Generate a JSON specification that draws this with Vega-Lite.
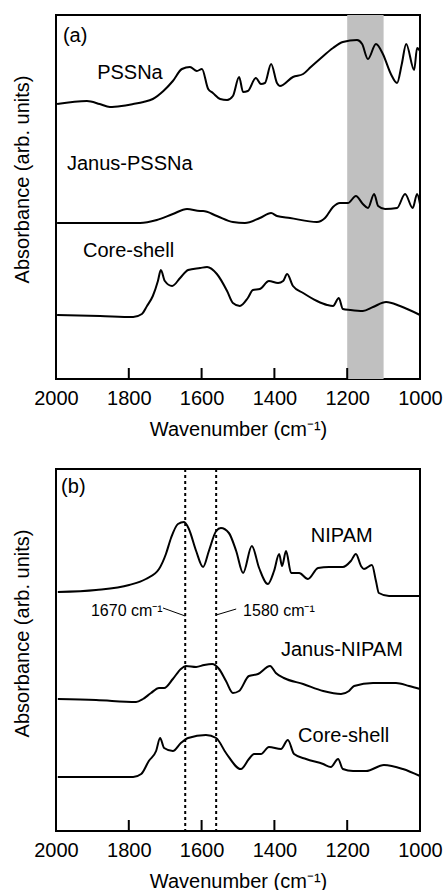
{
  "$schema": "https://vega.github.io/schema/vega-lite/v6.json",
  "padding": {"left": 11, "top": 14, "right": 5, "bottom": 2},
  "background": "white",
  "spacing": 27,
  "config": {
    "font": "Liberation Sans",
    "view": {"stroke": "black", "strokeWidth": 2},
    "axis": {
      "grid": false,
      "domain": false,
      "labelFont": "Liberation Sans",
      "titleFont": "Liberation Sans",
      "labelFontSize": 20,
      "titleFontSize": 20,
      "titleFontWeight": "normal",
      "labelColor": "black",
      "titleColor": "black",
      "tickColor": "black"
    }
  },
  "datasets": {
    "bandA": [{"from": 1200, "to": 1100}],
    "ticks": [{"wn": 1800}, {"wn": 1600}, {"wn": 1400}, {"wn": 1200}],
    "specA": [
      {"sample": "PSSNa", "wn": 1997, "abs": 275}, {"sample": "PSSNa", "wn": 1915, "abs": 278}, {"sample": "PSSNa", "wn": 1880, "abs": 275}, {"sample": "PSSNa", "wn": 1852, "abs": 272}, {"sample": "PSSNa", "wn": 1820, "abs": 273}, {"sample": "PSSNa", "wn": 1788, "abs": 275}, {"sample": "PSSNa", "wn": 1760, "abs": 277}, {"sample": "PSSNa", "wn": 1734, "abs": 280}, {"sample": "PSSNa", "wn": 1705, "abs": 288}, {"sample": "PSSNa", "wn": 1679, "abs": 298}, {"sample": "PSSNa", "wn": 1654, "abs": 310}, {"sample": "PSSNa", "wn": 1632, "abs": 312}, {"sample": "PSSNa", "wn": 1613, "abs": 308}, {"sample": "PSSNa", "wn": 1599, "abs": 310}, {"sample": "PSSNa", "wn": 1582, "abs": 290}, {"sample": "PSSNa", "wn": 1569, "abs": 286}, {"sample": "PSSNa", "wn": 1549, "abs": 280}, {"sample": "PSSNa", "wn": 1530, "abs": 279}, {"sample": "PSSNa", "wn": 1514, "abs": 283}, {"sample": "PSSNa", "wn": 1497, "abs": 302}, {"sample": "PSSNa", "wn": 1486, "abs": 287}, {"sample": "PSSNa", "wn": 1473, "abs": 288}, {"sample": "PSSNa", "wn": 1451, "abs": 301}, {"sample": "PSSNa", "wn": 1437, "abs": 295}, {"sample": "PSSNa", "wn": 1426, "abs": 296}, {"sample": "PSSNa", "wn": 1409, "abs": 315}, {"sample": "PSSNa", "wn": 1393, "abs": 296}, {"sample": "PSSNa", "wn": 1385, "abs": 293}, {"sample": "PSSNa", "wn": 1349, "abs": 302}, {"sample": "PSSNa", "wn": 1321, "abs": 305}, {"sample": "PSSNa", "wn": 1300, "abs": 312}, {"sample": "PSSNa", "wn": 1275, "abs": 320}, {"sample": "PSSNa", "wn": 1239, "abs": 331}, {"sample": "PSSNa", "wn": 1212, "abs": 337}, {"sample": "PSSNa", "wn": 1173, "abs": 339}, {"sample": "PSSNa", "wn": 1159, "abs": 335}, {"sample": "PSSNa", "wn": 1143, "abs": 320}, {"sample": "PSSNa", "wn": 1121, "abs": 335}, {"sample": "PSSNa", "wn": 1102, "abs": 325}, {"sample": "PSSNa", "wn": 1080, "abs": 305}, {"sample": "PSSNa", "wn": 1063, "abs": 296}, {"sample": "PSSNa", "wn": 1050, "abs": 315}, {"sample": "PSSNa", "wn": 1038, "abs": 335}, {"sample": "PSSNa", "wn": 1016, "abs": 309}, {"sample": "PSSNa", "wn": 1008, "abs": 331}, {"sample": "PSSNa", "wn": 1000, "abs": 328},
      {"sample": "Janus-PSSNa", "wn": 1997, "abs": 156}, {"sample": "Janus-PSSNa", "wn": 1879, "abs": 156}, {"sample": "Janus-PSSNa", "wn": 1769, "abs": 156}, {"sample": "Janus-PSSNa", "wn": 1723, "abs": 159}, {"sample": "Janus-PSSNa", "wn": 1679, "abs": 165}, {"sample": "Janus-PSSNa", "wn": 1640, "abs": 170}, {"sample": "Janus-PSSNa", "wn": 1604, "abs": 168}, {"sample": "Janus-PSSNa", "wn": 1596, "abs": 168}, {"sample": "Janus-PSSNa", "wn": 1558, "abs": 163}, {"sample": "Janus-PSSNa", "wn": 1514, "abs": 157}, {"sample": "Janus-PSSNa", "wn": 1481, "abs": 156}, {"sample": "Janus-PSSNa", "wn": 1440, "abs": 161}, {"sample": "Janus-PSSNa", "wn": 1409, "abs": 166}, {"sample": "Janus-PSSNa", "wn": 1393, "abs": 163}, {"sample": "Janus-PSSNa", "wn": 1357, "abs": 161}, {"sample": "Janus-PSSNa", "wn": 1283, "abs": 157}, {"sample": "Janus-PSSNa", "wn": 1261, "abs": 161}, {"sample": "Janus-PSSNa", "wn": 1239, "abs": 172}, {"sample": "Janus-PSSNa", "wn": 1220, "abs": 176}, {"sample": "Janus-PSSNa", "wn": 1198, "abs": 176}, {"sample": "Janus-PSSNa", "wn": 1176, "abs": 183}, {"sample": "Janus-PSSNa", "wn": 1157, "abs": 175}, {"sample": "Janus-PSSNa", "wn": 1143, "abs": 171}, {"sample": "Janus-PSSNa", "wn": 1126, "abs": 185}, {"sample": "Janus-PSSNa", "wn": 1115, "abs": 173}, {"sample": "Janus-PSSNa", "wn": 1096, "abs": 170}, {"sample": "Janus-PSSNa", "wn": 1063, "abs": 171}, {"sample": "Janus-PSSNa", "wn": 1041, "abs": 185}, {"sample": "Janus-PSSNa", "wn": 1020, "abs": 171}, {"sample": "Janus-PSSNa", "wn": 1008, "abs": 185}, {"sample": "Janus-PSSNa", "wn": 1000, "abs": 175},
      {"sample": "Core-shell", "wn": 1997, "abs": 64}, {"sample": "Core-shell", "wn": 1879, "abs": 63}, {"sample": "Core-shell", "wn": 1788, "abs": 62}, {"sample": "Core-shell", "wn": 1764, "abs": 65}, {"sample": "Core-shell", "wn": 1750, "abs": 73}, {"sample": "Core-shell", "wn": 1734, "abs": 83}, {"sample": "Core-shell", "wn": 1720, "abs": 98}, {"sample": "Core-shell", "wn": 1712, "abs": 109}, {"sample": "Core-shell", "wn": 1701, "abs": 98}, {"sample": "Core-shell", "wn": 1681, "abs": 93}, {"sample": "Core-shell", "wn": 1659, "abs": 101}, {"sample": "Core-shell", "wn": 1637, "abs": 109}, {"sample": "Core-shell", "wn": 1604, "abs": 111}, {"sample": "Core-shell", "wn": 1585, "abs": 112}, {"sample": "Core-shell", "wn": 1558, "abs": 105}, {"sample": "Core-shell", "wn": 1530, "abs": 88}, {"sample": "Core-shell", "wn": 1514, "abs": 76}, {"sample": "Core-shell", "wn": 1495, "abs": 73}, {"sample": "Core-shell", "wn": 1473, "abs": 81}, {"sample": "Core-shell", "wn": 1459, "abs": 89}, {"sample": "Core-shell", "wn": 1440, "abs": 90}, {"sample": "Core-shell", "wn": 1415, "abs": 98}, {"sample": "Core-shell", "wn": 1390, "abs": 96}, {"sample": "Core-shell", "wn": 1376, "abs": 98}, {"sample": "Core-shell", "wn": 1365, "abs": 105}, {"sample": "Core-shell", "wn": 1349, "abs": 93}, {"sample": "Core-shell", "wn": 1321, "abs": 86}, {"sample": "Core-shell", "wn": 1283, "abs": 78}, {"sample": "Core-shell", "wn": 1255, "abs": 74}, {"sample": "Core-shell", "wn": 1239, "abs": 73}, {"sample": "Core-shell", "wn": 1223, "abs": 81}, {"sample": "Core-shell", "wn": 1212, "abs": 70}, {"sample": "Core-shell", "wn": 1192, "abs": 69}, {"sample": "Core-shell", "wn": 1157, "abs": 68}, {"sample": "Core-shell", "wn": 1129, "abs": 72}, {"sample": "Core-shell", "wn": 1093, "abs": 77}, {"sample": "Core-shell", "wn": 1055, "abs": 73}, {"sample": "Core-shell", "wn": 1000, "abs": 64}
    ],
    "labelsA": [
      {"label": "(a)", "wn": 1981, "abs": 343},
      {"label": "PSSNa", "wn": 1887, "abs": 306},
      {"label": "Janus-PSSNa", "wn": 1970, "abs": 215},
      {"label": "Core-shell", "wn": 1926, "abs": 128}
    ],
    "specB": [
      {"sample": "NIPAM", "wn": 1995, "abs": 239}, {"sample": "NIPAM", "wn": 1890, "abs": 241}, {"sample": "NIPAM", "wn": 1799, "abs": 246}, {"sample": "NIPAM", "wn": 1753, "abs": 252}, {"sample": "NIPAM", "wn": 1717, "abs": 262}, {"sample": "NIPAM", "wn": 1698, "abs": 277}, {"sample": "NIPAM", "wn": 1684, "abs": 293}, {"sample": "NIPAM", "wn": 1665, "abs": 307}, {"sample": "NIPAM", "wn": 1648, "abs": 309}, {"sample": "NIPAM", "wn": 1635, "abs": 302}, {"sample": "NIPAM", "wn": 1615, "abs": 280}, {"sample": "NIPAM", "wn": 1596, "abs": 264}, {"sample": "NIPAM", "wn": 1580, "abs": 280}, {"sample": "NIPAM", "wn": 1560, "abs": 300}, {"sample": "NIPAM", "wn": 1547, "abs": 303}, {"sample": "NIPAM", "wn": 1525, "abs": 298}, {"sample": "NIPAM", "wn": 1505, "abs": 280}, {"sample": "NIPAM", "wn": 1486, "abs": 258}, {"sample": "NIPAM", "wn": 1462, "abs": 285}, {"sample": "NIPAM", "wn": 1442, "abs": 263}, {"sample": "NIPAM", "wn": 1418, "abs": 247}, {"sample": "NIPAM", "wn": 1401, "abs": 260}, {"sample": "NIPAM", "wn": 1387, "abs": 277}, {"sample": "NIPAM", "wn": 1379, "abs": 265}, {"sample": "NIPAM", "wn": 1368, "abs": 280}, {"sample": "NIPAM", "wn": 1354, "abs": 258}, {"sample": "NIPAM", "wn": 1332, "abs": 258}, {"sample": "NIPAM", "wn": 1308, "abs": 252}, {"sample": "NIPAM", "wn": 1280, "abs": 263}, {"sample": "NIPAM", "wn": 1250, "abs": 264}, {"sample": "NIPAM", "wn": 1212, "abs": 264}, {"sample": "NIPAM", "wn": 1190, "abs": 270}, {"sample": "NIPAM", "wn": 1176, "abs": 277}, {"sample": "NIPAM", "wn": 1162, "abs": 265}, {"sample": "NIPAM", "wn": 1154, "abs": 262}, {"sample": "NIPAM", "wn": 1132, "abs": 266}, {"sample": "NIPAM", "wn": 1121, "abs": 250}, {"sample": "NIPAM", "wn": 1113, "abs": 238}, {"sample": "NIPAM", "wn": 1085, "abs": 235}, {"sample": "NIPAM", "wn": 1000, "abs": 235},
      {"sample": "Janus-NIPAM", "wn": 1995, "abs": 132}, {"sample": "Janus-NIPAM", "wn": 1890, "abs": 131}, {"sample": "Janus-NIPAM", "wn": 1780, "abs": 129}, {"sample": "Janus-NIPAM", "wn": 1761, "abs": 132}, {"sample": "Janus-NIPAM", "wn": 1739, "abs": 138}, {"sample": "Janus-NIPAM", "wn": 1717, "abs": 143}, {"sample": "Janus-NIPAM", "wn": 1703, "abs": 143}, {"sample": "Janus-NIPAM", "wn": 1679, "abs": 152}, {"sample": "Janus-NIPAM", "wn": 1657, "abs": 162}, {"sample": "Janus-NIPAM", "wn": 1643, "abs": 165}, {"sample": "Janus-NIPAM", "wn": 1615, "abs": 164}, {"sample": "Janus-NIPAM", "wn": 1593, "abs": 166}, {"sample": "Janus-NIPAM", "wn": 1571, "abs": 167}, {"sample": "Janus-NIPAM", "wn": 1552, "abs": 162}, {"sample": "Janus-NIPAM", "wn": 1533, "abs": 150}, {"sample": "Janus-NIPAM", "wn": 1514, "abs": 138}, {"sample": "Janus-NIPAM", "wn": 1497, "abs": 140}, {"sample": "Janus-NIPAM", "wn": 1470, "abs": 155}, {"sample": "Janus-NIPAM", "wn": 1445, "abs": 157}, {"sample": "Janus-NIPAM", "wn": 1412, "abs": 165}, {"sample": "Janus-NIPAM", "wn": 1396, "abs": 158}, {"sample": "Janus-NIPAM", "wn": 1374, "abs": 153}, {"sample": "Janus-NIPAM", "wn": 1321, "abs": 147}, {"sample": "Janus-NIPAM", "wn": 1266, "abs": 140}, {"sample": "Janus-NIPAM", "wn": 1217, "abs": 137}, {"sample": "Janus-NIPAM", "wn": 1195, "abs": 140}, {"sample": "Janus-NIPAM", "wn": 1181, "abs": 145}, {"sample": "Janus-NIPAM", "wn": 1129, "abs": 148}, {"sample": "Janus-NIPAM", "wn": 1066, "abs": 148}, {"sample": "Janus-NIPAM", "wn": 1030, "abs": 145}, {"sample": "Janus-NIPAM", "wn": 1000, "abs": 142},
      {"sample": "Core-shell", "wn": 1995, "abs": 54}, {"sample": "Core-shell", "wn": 1890, "abs": 54}, {"sample": "Core-shell", "wn": 1788, "abs": 54}, {"sample": "Core-shell", "wn": 1766, "abs": 57}, {"sample": "Core-shell", "wn": 1745, "abs": 70}, {"sample": "Core-shell", "wn": 1725, "abs": 80}, {"sample": "Core-shell", "wn": 1714, "abs": 93}, {"sample": "Core-shell", "wn": 1703, "abs": 83}, {"sample": "Core-shell", "wn": 1679, "abs": 80}, {"sample": "Core-shell", "wn": 1657, "abs": 88}, {"sample": "Core-shell", "wn": 1637, "abs": 93}, {"sample": "Core-shell", "wn": 1588, "abs": 96}, {"sample": "Core-shell", "wn": 1560, "abs": 93}, {"sample": "Core-shell", "wn": 1533, "abs": 78}, {"sample": "Core-shell", "wn": 1492, "abs": 62}, {"sample": "Core-shell", "wn": 1470, "abs": 72}, {"sample": "Core-shell", "wn": 1456, "abs": 77}, {"sample": "Core-shell", "wn": 1437, "abs": 77}, {"sample": "Core-shell", "wn": 1415, "abs": 84}, {"sample": "Core-shell", "wn": 1382, "abs": 82}, {"sample": "Core-shell", "wn": 1363, "abs": 91}, {"sample": "Core-shell", "wn": 1346, "abs": 77}, {"sample": "Core-shell", "wn": 1313, "abs": 72}, {"sample": "Core-shell", "wn": 1266, "abs": 67}, {"sample": "Core-shell", "wn": 1245, "abs": 64}, {"sample": "Core-shell", "wn": 1225, "abs": 72}, {"sample": "Core-shell", "wn": 1212, "abs": 62}, {"sample": "Core-shell", "wn": 1184, "abs": 60}, {"sample": "Core-shell", "wn": 1148, "abs": 60}, {"sample": "Core-shell", "wn": 1099, "abs": 66}, {"sample": "Core-shell", "wn": 1047, "abs": 62}, {"sample": "Core-shell", "wn": 1000, "abs": 55}
    ],
    "labelsB": [
      {"label": "(b)", "wn": 1986, "abs": 344},
      {"label": "NIPAM", "wn": 1300, "abs": 295},
      {"label": "Janus-NIPAM", "wn": 1382, "abs": 181},
      {"label": "Core-shell", "wn": 1335, "abs": 95}
    ],
    "notesB": [
      {"label": "1670 cm⁻¹", "wn": 1904, "abs": 220},
      {"label": "1580 cm⁻¹", "wn": 1486, "abs": 220}
    ],
    "leadersB": [
      {"wn": 1706, "abs": 223, "wn2": 1645, "abs2": 215},
      {"wn": 1560, "abs": 216, "wn2": 1505, "abs2": 222}
    ],
    "markersB": [{"wn": 1645}, {"wn": 1560}]
  },
  "vconcat": [
    {
      "width": 364,
      "height": 364,
      "layer": [
        {
          "data": {"name": "bandA"},
          "mark": {"type": "rect", "color": "#c0c0c0"},
          "encoding": {
            "x": {"field": "from", "type": "quantitative", "scale": {"domain": [1000, 2000], "reverse": true, "nice": false, "zero": false}},
            "x2": {"field": "to"}
          }
        },
        {
          "data": {"name": "ticks"},
          "mark": {"type": "rule", "color": "black", "strokeWidth": 2},
          "encoding": {
            "x": {"field": "wn", "type": "quantitative"},
            "y": {"datum": 0, "type": "quantitative"},
            "y2": {"datum": 11}
          }
        },
        {
          "data": {"name": "specA"},
          "mark": {"type": "line", "color": "black", "strokeWidth": 2, "interpolate": "monotone"},
          "encoding": {
            "x": {"field": "wn", "type": "quantitative", "scale": {"domain": [1000, 2000], "reverse": true, "nice": false, "zero": false},
              "axis": {"title": "Wavenumber (cm⁻¹)", "values": [2000, 1800, 1600, 1400, 1200, 1000], "format": "d", "labelFlush": false, "ticks": false, "tickSize": 0, "labelPadding": 9, "titlePadding": 11, "labelOverlap": false}},
            "y": {"field": "abs", "type": "quantitative", "scale": {"domain": [0, 364], "nice": false, "zero": false},
              "axis": {"title": "Absorbance (arb. units)", "labels": false, "ticks": false, "titleX": -28, "titleY": 164, "titleBaseline": "alphabetic", "titleAlign": "center", "titleAngle": 270}},
            "detail": {"field": "sample"}
          }
        },
        {
          "data": {"name": "labelsA"},
          "mark": {"type": "text", "align": "left", "baseline": "middle", "fontSize": 20, "font": "Liberation Sans", "color": "black"},
          "encoding": {
            "x": {"field": "wn", "type": "quantitative"},
            "y": {"field": "abs", "type": "quantitative"},
            "text": {"field": "label"}
          }
        }
      ]
    },
    {
      "width": 364,
      "height": 362,
      "layer": [
        {
          "data": {"name": "markersB"},
          "mark": {"type": "rule", "color": "black", "strokeWidth": 2, "strokeDash": [3, 3]},
          "encoding": {
            "x": {"field": "wn", "type": "quantitative", "scale": {"domain": [1000, 2000], "reverse": true, "nice": false, "zero": false}}
          }
        },
        {
          "data": {"name": "ticks"},
          "mark": {"type": "rule", "color": "black", "strokeWidth": 2},
          "encoding": {
            "x": {"field": "wn", "type": "quantitative"},
            "y": {"datum": 0, "type": "quantitative"},
            "y2": {"datum": 11}
          }
        },
        {
          "data": {"name": "specB"},
          "mark": {"type": "line", "color": "black", "strokeWidth": 2, "interpolate": "monotone"},
          "encoding": {
            "x": {"field": "wn", "type": "quantitative", "scale": {"domain": [1000, 2000], "reverse": true, "nice": false, "zero": false},
              "axis": {"title": "Wavenumber (cm⁻¹)", "values": [2000, 1800, 1600, 1400, 1200, 1000], "format": "d", "labelFlush": false, "ticks": false, "tickSize": 0, "labelPadding": 9, "titlePadding": 11, "labelOverlap": false}},
            "y": {"field": "abs", "type": "quantitative", "scale": {"domain": [0, 362], "nice": false, "zero": false},
              "axis": {"title": "Absorbance (arb. units)", "labels": false, "ticks": false, "titleX": -28, "titleY": 164, "titleBaseline": "alphabetic", "titleAlign": "center", "titleAngle": 270}},
            "detail": {"field": "sample"}
          }
        },
        {
          "data": {"name": "labelsB"},
          "mark": {"type": "text", "align": "left", "baseline": "middle", "fontSize": 20, "font": "Liberation Sans", "color": "black"},
          "encoding": {
            "x": {"field": "wn", "type": "quantitative"},
            "y": {"field": "abs", "type": "quantitative"},
            "text": {"field": "label"}
          }
        },
        {
          "data": {"name": "notesB"},
          "mark": {"type": "text", "align": "left", "baseline": "middle", "fontSize": 16, "font": "Liberation Sans", "color": "black"},
          "encoding": {
            "x": {"field": "wn", "type": "quantitative"},
            "y": {"field": "abs", "type": "quantitative"},
            "text": {"field": "label"}
          }
        },
        {
          "data": {"name": "leadersB"},
          "mark": {"type": "rule", "color": "black", "strokeWidth": 1},
          "encoding": {
            "x": {"field": "wn", "type": "quantitative"},
            "y": {"field": "abs", "type": "quantitative"},
            "x2": {"field": "wn2"},
            "y2": {"field": "abs2"}
          }
        }
      ]
    }
  ]
}
